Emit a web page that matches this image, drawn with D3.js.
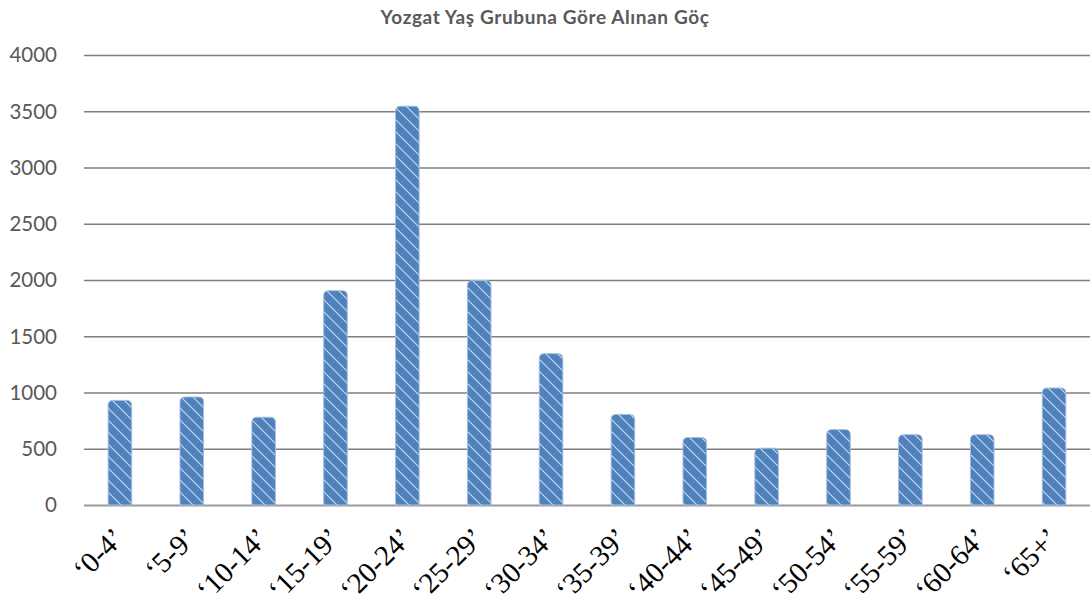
<!DOCTYPE html>
<html>
<head>
<meta charset="utf-8">
<script src="https://cdn.jsdelivr.net/npm/d3@7"></script>
<style>
  html, body { margin: 0; padding: 0; background: #fff; }
  svg { display: block; }
</style>
</head>
<body>
<svg id="chart" width="1090" height="608"></svg>
<script>
const title = "Yozgat Yaş Grubuna Göre Alınan Göç";
const categories = ["‘0-4’", "‘5-9’", "‘10-14’", "‘15-19’", "‘20-24’", "‘25-29’", "‘30-34’", "‘35-39’", "‘40-44’", "‘45-49’", "‘50-54’", "‘55-59’", "‘60-64’", "‘65+’"];
const values = [930, 960, 780, 1905, 3545, 1995, 1345, 805, 600, 505, 670, 625, 625, 1040];
const yTicks = [0, 500, 1000, 1500, 2000, 2500, 3000, 3500, 4000];

const svg = d3.select("#chart");
const plotLeft = 84, plotRight = 1090, plotTop = 55, plotBottom = 505;

const x = d3.scaleBand().domain(categories).range([plotLeft, plotRight])
  .paddingInner(0.672).paddingOuter(0.336);
const y = d3.scaleLinear().domain([0, 4000]).range([plotBottom, plotTop]);

// pattern
const defs = svg.append("defs");
const pat = defs.append("pattern").attr("id", "hatch")
  .attr("patternUnits", "userSpaceOnUse").attr("width", 12).attr("height", 12);
pat.append("rect").attr("width", 12).attr("height", 12).attr("fill", "#4F81BD");
pat.append("path").attr("d", "M-3,-3 L15,15 M-3,9 L3,15 M9,-3 L15,3")
  .attr("stroke", "#c9d9ef").attr("stroke-width", 1.1);

// title
svg.append("text").attr("x", 545).attr("y", 24).attr("text-anchor", "middle")
  .attr("font-family", "Lato, 'Open Sans', sans-serif").attr("font-weight", "bold")
  .attr("font-size", 19).attr("letter-spacing", 0.6)
  .attr("fill", "#595959").text(title);

// gridlines
svg.append("g").selectAll("line").data(yTicks).join("line")
  .attr("x1", plotLeft).attr("x2", plotRight)
  .attr("y1", d => y(d) + 0.5).attr("y2", d => y(d) + 0.5)
  .attr("stroke", d => d === 0 ? "#9a9a9a" : "#7f7f7f")
  .attr("stroke-width", d => d === 0 ? 2 : 1.3);

// y axis labels
svg.append("g").selectAll("text").data(yTicks).join("text")
  .attr("x", 57).attr("y", d => y(d)).attr("dy", "0.36em")
  .attr("text-anchor", "end")
  .attr("font-family", "Lato, 'Open Sans', sans-serif").attr("font-size", 20.5)
  .attr("fill", "#595959").text(d => d);

// bars with rounded top
const r = 5;
function barPath(cat, v) {
  const x0 = x(cat), w = x.bandwidth(), y0 = y(v), yb = y(0);
  return `M${x0},${yb} L${x0},${y0 + r} Q${x0},${y0} ${x0 + r},${y0} L${x0 + w - r},${y0} Q${x0 + w},${y0} ${x0 + w},${y0 + r} L${x0 + w},${yb} Z`;
}
svg.append("g").selectAll("path").data(categories).join("path")
  .attr("d", (c, i) => barPath(c, values[i]))
  .attr("fill", "url(#hatch)")
  .attr("stroke", "#a3bde0").attr("stroke-width", 1);

// x labels
const lab = svg.append("g").selectAll("g").data(categories).join("g")
  .attr("transform", c => `translate(${x(c) + x.bandwidth() / 2 + 6},540)`);
lab.append("text")
  .attr("transform", "rotate(-45)")
  .attr("text-anchor", "end")
  .attr("font-family", "'Liberation Serif', 'Times New Roman', serif")
  .attr("font-size", 29).attr("fill", "#000").text(c => c);
</script>
</body>
</html>
